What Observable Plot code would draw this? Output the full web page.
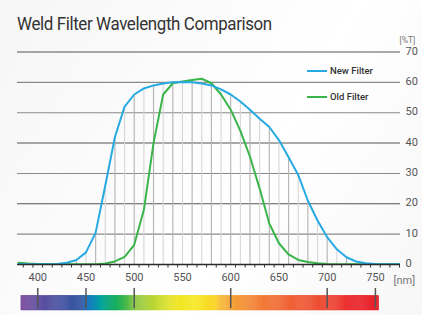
<!DOCTYPE html>
<html><head><meta charset="utf-8">
<script src="https://cdn.jsdelivr.net/npm/d3@7"></script>
<script src="https://cdn.jsdelivr.net/npm/@observablehq/plot@0.6"></script>
<style>
body{margin:0;background:#fff;font-family:Roboto,"Noto Sans",sans-serif;}
#wrap{position:relative;width:422px;height:315px;overflow:hidden;background:linear-gradient(120deg,#f6f6f6 0%,#ffffff 60%,#f7f7f7 100%);}
#title{position:absolute;left:17px;top:15px;font-size:18px;color:#333;letter-spacing:-0.4px;white-space:nowrap;line-height:1;transform:scaleX(0.94);transform-origin:left top;}
#chart{position:absolute;left:0;top:0;}
#spec{position:absolute;left:0;top:285px;}
.leg{position:absolute;left:307px;font-size:9.5px;font-weight:500;color:#333;display:flex;align-items:center;line-height:1;}
.leg i{display:inline-block;width:20px;height:2px;margin-right:3px;}
</style></head><body>
<div id="wrap">
 <div id="title">Weld Filter Wavelength Comparison</div>
 <div id="chart"></div>
 <div id="spec"></div>
 <div class="leg" style="top:66px"><i style="background:#27AAE1"></i>New Filter</div>
 <div class="leg" style="top:92px"><i style="background:#39B54A"></i>Old Filter</div>
</div>
<script>
// ---- data ----
const wavelengths = [380,390,400,410,420,430,440,450,460,470,480,490,500,510,520,530,540,550,560,570,580,590,600,610,620,630,640,650,660,670,680,690,700,710,720,730,740,750,760,770,780];
const newFilter   = [0.2,0.1,0.1,0.1,0.2,0.6,1.5,4,10.5,26,42,52,56,58,59,59.6,60,60.1,60,59.6,59,57.7,56,53.7,51,48,45.3,41,35.3,29.5,21,14.5,9,5,2.4,1.0,0.4,0.2,0.1,0.1,0.1];
const oldFilter   = [0.6,0.3,0.2,0.1,0.1,0.1,0.1,0.1,0.1,0.3,1,2.5,6.5,18,40,56,59.7,60.3,60.8,61.2,59.7,56,51,44,35.5,25,13.5,7,3.3,1.5,0.8,0.4,0.2,0.1,0.1,0.1,0.1,0.1,0.1,0.1,0.1];
const yTicks = [0,10,20,30,40,50,60,70];
const yGridDark = [70,40,20];
const yGridLight = [60,50,30,10];
const xLabels = [400,450,500,550,600,650,700,750];
const spectrumTicks = [400,450,500,600,700,750];
const spectrumStops  = [383,400,446,454,465,481,490,502,523,543,564,585,590,600,621,655,690,714,728,754];
const spectrumColors = ["#7A4B9E","#5E4D9F","#2F55A0","#0072BB","#00A0A0","#00A650","#3DB54A","#8DC63F","#C1D831","#EEE524","#F7E822","#F9D225","#F6B834","#F5A535","#F38534","#F06533","#EE4E33","#EC3A2F","#E9232A","#E8202A"];

const rows = wavelengths.map((nm, i) => ({nm, nw: newFilter[i], old: oldFilter[i], i}));
const minorTicks = d3.range(385, 776, 10);
const xDomain = [379, 776];
const W = 422, ML = 17, MR = 22;

const chart = Plot.plot({
  width: W, height: 290,
  marginLeft: ML, marginRight: MR, marginTop: 51.5, marginBottom: 26,
  style: {color: "#555", fontSize: "11px", fontFamily: "Roboto, 'Noto Sans', sans-serif", background: "transparent", overflow: "visible"},
  x: {domain: xDomain},
  y: {domain: [0, 70]},
  marks: [
    Plot.ruleY(yGridLight, {stroke: "#8a8a8a", strokeWidth: 1.1}),
    Plot.ruleY(yGridDark, {stroke: "#555", strokeWidth: 1.1}),
    Plot.ruleX(rows.filter(d => d.i % 2 === 0), {x: "nm", y1: 0, y2: d => Math.max(d.nw, d.old), stroke: "#b3b3b3", strokeWidth: 1.1, clip: true}),
    Plot.ruleX(rows.filter(d => d.i % 2 === 1), {x: "nm", y1: 0, y2: d => Math.max(d.nw, d.old), stroke: "#d6d6d6", strokeWidth: 1.1, clip: true}),
    Plot.ruleX(minorTicks, {x: d => d, y1: 0, y2: 0, insetBottom: -3.5, stroke: "#333", strokeWidth: 1}),
    Plot.line(rows, {x: "nm", y: "old", stroke: "#39B54A", strokeWidth: 2, clip: true}),
    Plot.line(rows, {x: "nm", y: "nw", stroke: "#27AAE1", strokeWidth: 2, clip: true}),
    Plot.ruleY([0], {stroke: "#2b2b2b", strokeWidth: 1.6}),
    Plot.axisY({anchor: "right", ticks: yTicks, tickSize: 0, tickPadding: 5, dy: -1, label: null}),
    Plot.axisX({ticks: xLabels, tickSize: 0, tickPadding: 9, label: null}),
    Plot.text(["[%T]"], {frameAnchor: "top-right", dx: -1, dy: -15, textAnchor: "start", fontSize: 8.5, fill: "#777"}),
    Plot.text(["[nm]"], {frameAnchor: "bottom-right", dx: -7, dy: 19, textAnchor: "start", fontSize: 11, fill: "#777"})
  ]
});
document.getElementById("chart").append(chart);

const cells = d3.range(383, 754, 1);
const spec = Plot.plot({
  width: W, height: 30,
  marginLeft: ML, marginRight: MR, marginTop: 3, marginBottom: 5,
  style: {background: "transparent"},
  x: {domain: xDomain, axis: null},
  color: {type: "linear", domain: spectrumStops, range: spectrumColors, interpolate: "rgb"},
  marks: [
    Plot.rect(cells, {x1: d => d, x2: d => d + 1, fill: d => d, stroke: d => d, strokeWidth: 0.4, insetTop: 7.7}),
    Plot.ruleX(spectrumTicks, {x: d => d, stroke: "#555", strokeWidth: 1.5, insetBottom: 1.7})
  ]
});
document.getElementById("spec").append(spec);
</script>
</body></html>
